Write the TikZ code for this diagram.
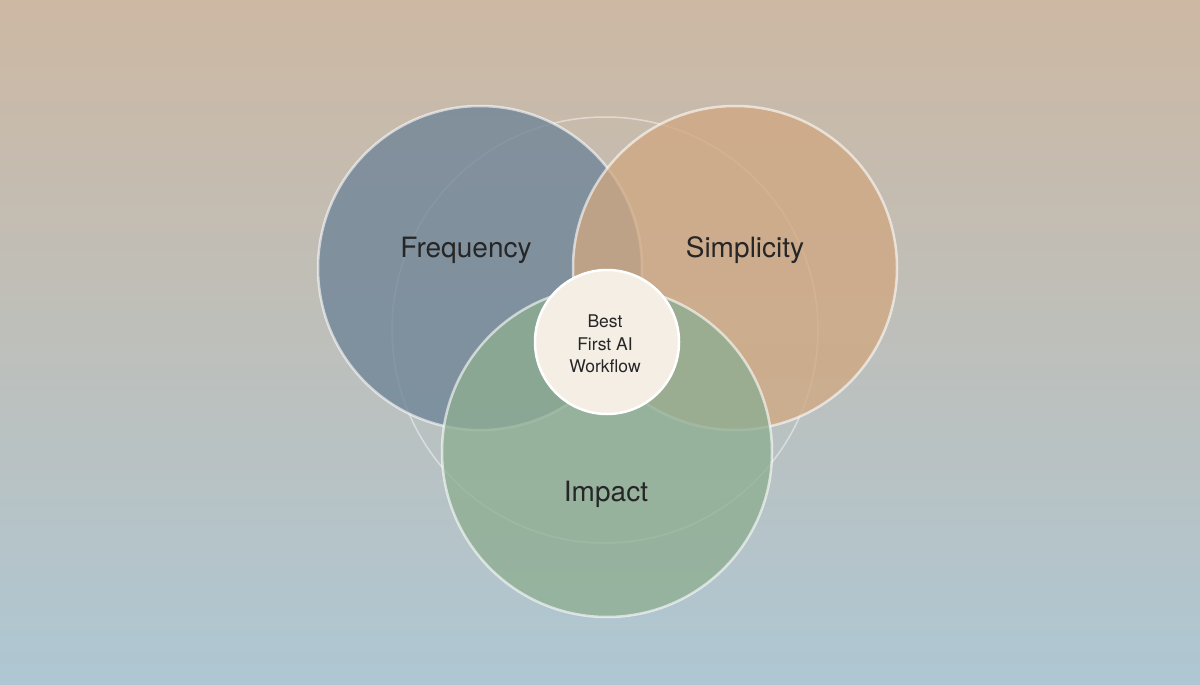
\documentclass[tikz,border=0pt]{standalone}
\usepackage{fontspec}
\setmainfont{TeX Gyre Heros}
\begin{document}
\begin{tikzpicture}[x=1pt,y=-1pt,
  venn/.style={circle,draw=white,draw opacity=0.6,line width=2.5pt,fill opacity=0.78,inner sep=0pt},
  lbl/.style={font=\fontsize{28}{32}\selectfont,text=black!85}]
\definecolor{bgtop}{HTML}{CDB8A3}
\definecolor{bgbot}{HTML}{AEC7D3}
\definecolor{cfreq}{HTML}{6E8497}
\definecolor{csimp}{HTML}{D0A882}
\definecolor{cimp}{HTML}{8EAE92}
\definecolor{ccent}{HTML}{F4EEE4}
\shade[top color=bgtop,bottom color=bgbot] (0,0) rectangle (1200,685);
\useasboundingbox (0,0) rectangle (1200,685);
\node[circle,draw=white,draw opacity=0.45,line width=1.5pt,minimum size=426pt,inner sep=0pt] (outer) at (605,330) {};
\node[venn,fill=cfreq,minimum size=324pt] (freq) at (480,268) {};
\node[venn,fill=csimp,minimum size=324pt] (simp) at (735,268) {};
\node[venn,fill=cimp,minimum size=330pt] (imp) at (607,452) {};
\node[circle,fill=ccent,draw=white,line width=2.5pt,minimum size=144pt,inner sep=0pt] (cent) at (607,342) {};
\node[lbl] (tf) at (466,250) {Frequency};
\node[lbl] (ts) at (745,250) {Simplicity};
\node[lbl] (ti) at (606,494) {Impact};
\node[align=center,font=\fontsize{17.5}{22.5}\selectfont,text=black!85] (tc) at (605,344) {Best\\First AI\\Workflow};
\end{tikzpicture}
\end{document}
